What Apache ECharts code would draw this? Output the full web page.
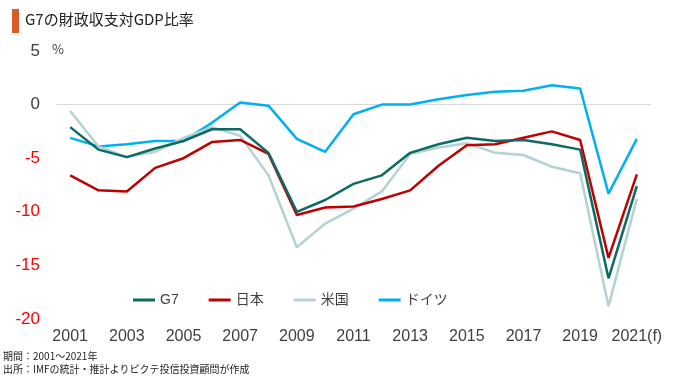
<!DOCTYPE html>
<html><head><meta charset="utf-8">
<script src="https://cdn.jsdelivr.net/npm/echarts@6/dist/echarts.min.js"></script>
<style>html,body{margin:0;padding:0;background:#fff}#c{width:680px;height:383px}</style>
</head><body><div id="c"></div>
<script>
const years = ['2001','2002','2003','2004','2005','2006','2007','2008','2009','2010','2011','2012','2013','2014','2015','2016','2017','2018','2019','2020','2021(f)'];
const g7 =      [-2.1,-4.2,-4.9,-4.1,-3.4,-2.3,-2.3,-4.5,-10.0,-8.9,-7.4,-6.6,-4.5,-3.7,-3.1,-3.4,-3.3,-3.7,-4.2,-16.2,-7.6];
const japan =   [-6.6,-8.0,-8.1,-5.9,-5.0,-3.5,-3.3,-4.6,-10.3,-9.6,-9.5,-8.8,-8.0,-5.7,-3.8,-3.7,-3.1,-2.5,-3.3,-14.3,-6.5];
const usa =     [-0.6,-3.9,-4.9,-4.4,-3.1,-2.1,-2.9,-6.6,-13.3,-11.1,-9.7,-8.1,-4.6,-4.0,-3.6,-4.5,-4.7,-5.8,-6.4,-18.8,-8.8];
const germany = [-3.1,-3.9,-3.7,-3.4,-3.4,-1.7,0.2,-0.1,-3.2,-4.4,-0.9,0.0,0.0,0.5,0.9,1.2,1.3,1.8,1.5,-8.3,-3.2];
const seriesNames = ['G7','日本','米国','ドイツ'];
const colors = ['#0b6b64','#c00000','#b4d1d4','#00b0f0'];
const FONT = '"Liberation Sans","Noto Sans CJK JP",sans-serif';
const chart = echarts.init(document.getElementById('c'));
const mk = (name, data, i) => ({
  name, type: 'line', data, symbol: 'none', smooth: false,
  lineStyle: {width: 2.5, color: colors[i]}, itemStyle: {color: colors[i]}, z: 10 - i
});
const s = [mk(seriesNames[2], usa, 2), mk(seriesNames[3], germany, 3), mk(seriesNames[1], japan, 1), mk(seriesNames[0], g7, 0)];
s[0].markLine = {silent: true, symbol: 'none', label: {show: false}, lineStyle: {color: '#d9d9d9', type: 'solid', width: 1}, data: [{yAxis: 0}], z: 1};
chart.setOption({
  animation: false,
  grid: {left: 56, right: 29, top: 51, bottom: 64},
  graphic: [
    {type: 'rect', left: 12, top: 9, shape: {width: 7, height: 24}, style: {fill: '#d9592a'}},
    {type: 'text', left: 25, top: 12, style: {text: 'G7の財政収支対GDP比率', fill: '#222', font: '15px "Noto Sans CJK JP"'}},
    {type: 'text', left: 52, top: 43, style: {text: '%', fill: '#404040', font: '13px "Noto Sans CJK JP"'}},
    {type: 'text', left: 3, top: 351, style: {text: '期間：2001～2021年', fill: '#222', font: '10px "Noto Sans CJK JP"'}},
    {type: 'text', left: 3, top: 364, style: {text: '出所：IMFの統計・推計よりピクテ投信投資顧問が作成', fill: '#222', font: '10px "Noto Sans CJK JP"'}}
  ],
  legend: {
    data: seriesNames, left: 128, top: 288, itemWidth: 22, itemHeight: 3, itemGap: 30,
    icon: 'rect',
    textStyle: {fontFamily: FONT, fontSize: 14, color: '#404040'}
  },
  xAxis: {
    type: 'category', data: years, boundaryGap: true,
    axisLine: {show: false}, axisTick: {show: false}, splitLine: {show: false},
    axisLabel: {interval: 1, margin: 10, fontFamily: FONT, fontSize: 16, color: '#404040'}
  },
  yAxis: {
    type: 'value', min: -20, max: 5, interval: 5,
    axisLine: {show: false}, axisTick: {show: false}, splitLine: {show: false},
    axisLabel: {margin: 16, fontFamily: FONT, fontSize: 17,
      color: function (v) { return Number(v) < 0 ? '#ff0000' : '#404040'; }}
  },
  series: s
});
</script></body></html>
